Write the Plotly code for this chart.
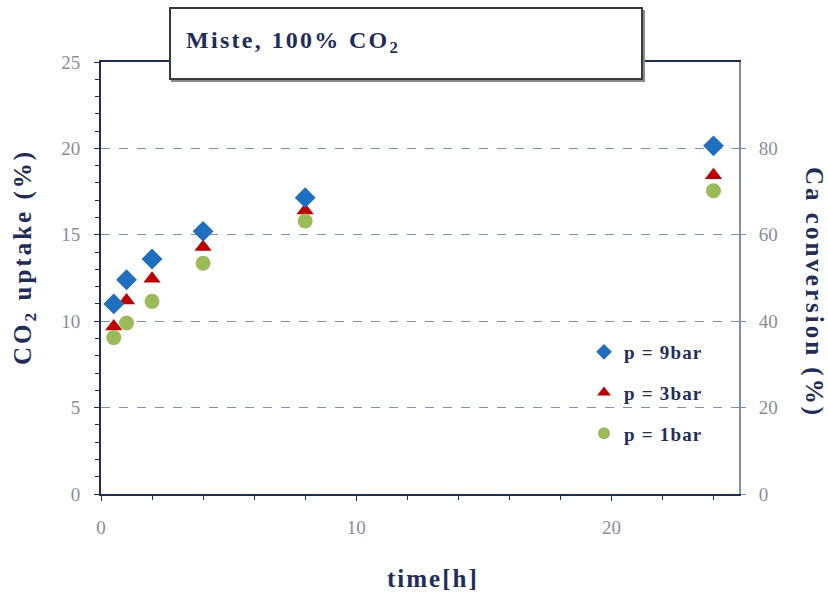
import plotly.graph_objects as go

time_h = [0.5, 1, 2, 4, 8, 24]
uptake_9bar = [11.0, 12.4, 13.6, 15.2, 17.15, 20.15]
uptake_3bar = [9.7, 11.2, 12.45, 14.3, 16.4, 18.45]
uptake_1bar = [9.05, 9.9, 11.15, 13.35, 15.8, 17.55]
series_names = ["p = 9bar", "p = 3bar", "p = 1bar"]

NAVY = "#1f2d5c"
TICKC = "#8a8c9c"
FONT = "Liberation Serif"

def lname(s):
    return '<span style="letter-spacing:1.2px">' + s + '</span>'

fig = go.Figure()
fig.add_trace(go.Scatter(x=time_h, y=uptake_3bar, mode="markers", name=lname(series_names[1]),
                         legendrank=2, legendgroup="b",
                         marker=dict(symbol="triangle-up", size=15, color="#c00000")))
fig.add_trace(go.Scatter(x=time_h, y=uptake_9bar, mode="markers", name=lname(series_names[0]),
                         legendrank=1, legendgroup="a",
                         marker=dict(symbol="diamond", size=16, color="#1f6fc0")))
fig.add_trace(go.Scatter(x=time_h, y=uptake_1bar, mode="markers", name=lname(series_names[2]),
                         legendrank=3, legendgroup="c",
                         marker=dict(symbol="circle", size=15, color="#9bbb59")))
# invisible trace for right axis
fig.add_trace(go.Scatter(x=[None], y=[None], yaxis="y2", showlegend=False))

def px_x(px):
    return (px - 101) / 638

def px_y(py):
    return (494 - py) / 432

fig.update_layout(
    width=828, height=593,
    margin=dict(l=101, r=89, t=62, b=99),
    paper_bgcolor="white", plot_bgcolor="white",
    showlegend=True,
    legend=dict(x=px_x(584), y=px_y(333), xanchor="left", yanchor="top",
                bgcolor="rgba(0,0,0,0)", tracegroupgap=13, itemwidth=30,
                itemsizing="constant",
                font=dict(family=FONT, size=19, color=NAVY, weight="bold")),
    xaxis=dict(range=[0, 25], tickvals=[0, 10, 20], showgrid=False, zeroline=False,
               showline=True, linecolor=NAVY, linewidth=2, mirror=True,
               ticks="outside", ticklen=5, tickcolor=NAVY, ticklabelstandoff=10,
               minor=dict(dtick=2, ticks="outside", ticklen=4, tickcolor=NAVY),
               tickfont=dict(family=FONT, size=19, color=TICKC)),
    yaxis=dict(range=[0, 25], dtick=5, showgrid=True, gridcolor="#7f8fb3", griddash="dash",
               gridwidth=1, zeroline=False,
               showline=True, linecolor=NAVY, linewidth=2,
               ticks="outside", ticklen=5, tickcolor=NAVY, ticklabelstandoff=10,
               minor=dict(dtick=1, ticks="outside", ticklen=4, tickcolor=NAVY),
               tickfont=dict(family=FONT, size=19, color=TICKC)),
    yaxis2=dict(range=[0, 100], tickvals=[0, 20, 40, 60, 80], overlaying="y", side="right",
                showgrid=False, zeroline=False, showline=True, linecolor="#7f8fb0", linewidth=2,
                ticks="outside", ticklen=5, tickcolor="#7f8fb0", ticklabelstandoff=9,
                tickfont=dict(family=FONT, size=19, color=TICKC)),
)

TITLE_FONT = dict(family=FONT, size=25, color=NAVY, weight="bold")
fig.add_annotation(xref="paper", yref="paper", x=px_x(24), y=px_y(257),
                   xanchor="center", yanchor="middle", showarrow=False, textangle=-90,
                   text='<span style="letter-spacing:3px">CO<sub>2</sub> uptake (%)</span>',
                   font=TITLE_FONT)
fig.add_annotation(xref="paper", yref="paper", x=px_x(814), y=px_y(292),
                   xanchor="center", yanchor="middle", showarrow=False, textangle=90,
                   text='<span style="letter-spacing:3px">Ca conversion (%)</span>',
                   font=TITLE_FONT)
fig.add_annotation(xref="paper", yref="paper", x=px_x(433), y=px_y(578),
                   xanchor="center", yanchor="middle", showarrow=False,
                   text='<span style="letter-spacing:2px">time[h]</span>',
                   font=TITLE_FONT)

# title box with shadow
fig.add_shape(type="rect", xref="paper", yref="paper",
              x0=px_x(171), x1=px_x(645), y0=px_y(82), y1=px_y(10),
              fillcolor="#8a8a8a", line=dict(width=0), layer="above")
fig.add_shape(type="rect", xref="paper", yref="paper",
              x0=px_x(170), x1=px_x(642), y0=px_y(79), y1=px_y(8),
              fillcolor="white", line=dict(color="#3a3a3a", width=2), layer="above")
fig.add_annotation(xref="paper", yref="paper", x=px_x(184), y=px_y(42),
                   xanchor="left", yanchor="middle", showarrow=False,
                   text='<span style="letter-spacing:2.3px">Miste, 100% CO<sub>2</sub></span>',
                   font=dict(family=FONT, size=24, color=NAVY, weight="bold"))

fig.write_html("out.html")
